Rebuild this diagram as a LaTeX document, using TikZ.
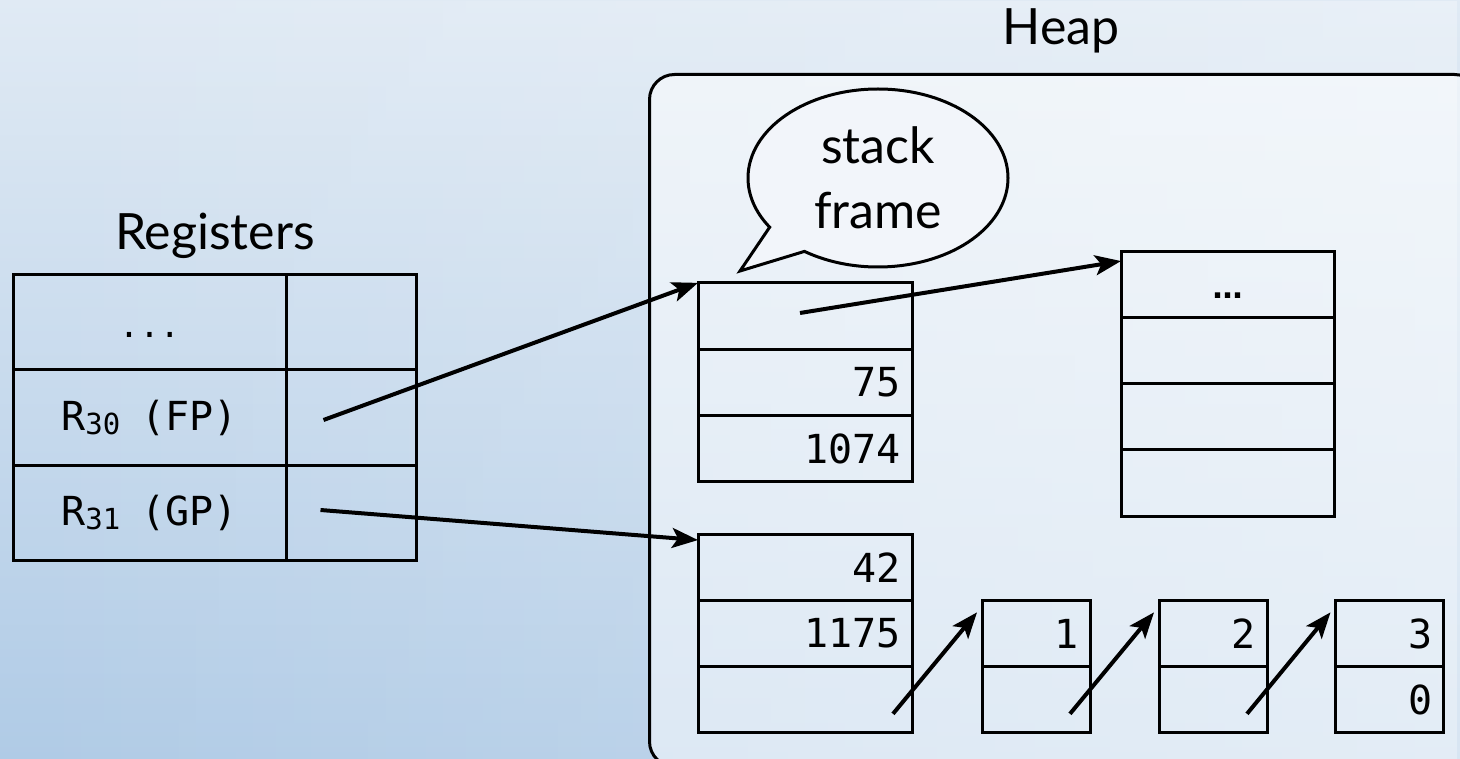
\documentclass[tikz,border=0pt]{standalone}
\usepackage{fontspec}
\setmainfont{Lato}
\newfontfamily\monofam{DejaVu Sans Mono}
\newfontfamily\dotfam{DejaVu Sans}
\usetikzlibrary{arrows.meta,shapes.callouts,fadings}

\definecolor{bgtop}{RGB}{224,234,244}
\definecolor{bgbot}{RGB}{176,203,230}
\definecolor{bubblefill}{RGB}{242,245,250}

\newcommand\valfont{\monofam\fontsize{40}{40}\selectfont}
\newcommand\headfont{\fontsize{50}{65}\selectfont}
% register name: R with a lowered index, then the alias in parentheses
\newcommand\regname[2]{\vphantom{R}R\raisebox{-4pt}[0pt][0pt]{\fontsize{29}{29}\selectfont #1}\hspace{-3pt} (#2)}

\tikzfading[name=fade to right, left color=transparent!100, right color=transparent!0]

\tikzset{
  cell/.style={draw, line width=3pt, inner sep=0pt, outer sep=0pt, minimum height=66.3pt},
  wide/.style={cell, minimum width=214pt},
  narrow/.style={cell, minimum width=108pt},
  regcell/.style={draw, line width=3pt, inner sep=0pt, outer sep=0pt, minimum height=95pt, font=\valfont},
  val/.style={font=\valfont, anchor=east, inner sep=0pt},
  heading/.style={font=\headfont, inner sep=0pt, anchor=base},
  heapbox/.style={draw, line width=3pt, rounded corners=25pt, fill=white, fill opacity=0.5, inner sep=0pt, anchor=north west},
  bubble/.style={ellipse callout, draw, line width=3pt, fill=bubblefill, inner sep=0pt,
    minimum width=260pt, minimum height=178pt, callout pointer arc=22, align=center, font=\headfont},
  ptr/.style={line width=4pt, -{Stealth[length=26pt,width=20pt,inset=6pt]}},
}

\begin{document}
\begin{tikzpicture}[x=1pt,y=-1pt]
\useasboundingbox (0,0) rectangle (1460,759);
\clip (0,0) rectangle (1460,759);

% background
\shade[top color=bgtop, bottom color=bgbot] (0,0) rectangle (1460,759);
\fill[white, opacity=0.3, path fading=fade to right] (0,0) rectangle (1460,759);

% heap area
\node[heapbox, minimum width=830pt, minimum height=692pt] (heap) at (648,73) {};
\node[heading] (heaplbl) at (1061,45) {Heap};

% register file
\node[heading] (reglbl) at (215,250) {Registers};
\node[regcell, minimum width=273pt] (r1) at (149.5,322.5) {\vphantom{R}\fontsize{34}{34}\selectfont ...};
\node[regcell, minimum width=273pt] (r2) at (149.5,417.5) {\regname{30}{FP}};
\node[regcell, minimum width=273pt] (r3) at (149.5,512.5) {\regname{31}{GP}};
\node[regcell, minimum width=130pt] (v1) at (351.5,322.5) {};
\node[regcell, minimum width=130pt] (v2) at (351.5,417.5) {};
\node[regcell, minimum width=130pt] (v3) at (351.5,512.5) {};

% stack frame
\node[wide] (sf1) at (805,316) {};
\node[wide] (sf2) at (805,382.3) {};
\node[wide] (sf3) at (805,448.6) {};
\node[val] (sf2v) at ([xshift=-11pt]sf2.east) {75};
\node[val] (sf3v) at ([xshift=-11pt]sf3.east) {1074};

% callout
\node[bubble, callout absolute pointer={(740,271)}] (note) at (878,178) {stack\\frame};

% object on the right
\node[wide, minimum width=213pt] (rb1) at (1227.5,284.2) {\valfont\vphantom{0}\dotfam\bfseries\fontsize{30}{30}\selectfont …};
\node[wide, minimum width=213pt] (rb2) at (1227.5,350.5) {};
\node[wide, minimum width=213pt] (rb3) at (1227.5,416.8) {};
\node[wide, minimum width=213pt] (rb4) at (1227.5,483.1) {};

% global object
\node[wide] (g1) at (805,567.2) {};
\node[wide] (g2) at (805,633.5) {};
\node[wide] (g3) at (805,699.8) {};
\node[val] (g1v) at ([xshift=-11pt]g1.east) {42};
\node[val] (g2v) at ([xshift=-11pt]g2.east) {1175};

% linked list cells
\node[narrow] (a1) at (1036,633.5) {};
\node[narrow] (a2) at (1036,699.8) {};
\node[narrow] (b1) at (1213,633.5) {};
\node[narrow] (b2) at (1213,699.8) {};
\node[narrow] (c1) at (1389.5,633.5) {};
\node[narrow] (c2) at (1389.5,699.8) {};
\node[val] (a1v) at ([xshift=-11pt]a1.east) {1};
\node[val] (b1v) at ([xshift=-11pt]b1.east) {2};
\node[val] (c1v) at ([xshift=-11pt]c1.east) {3};
\node[val] (c2v) at ([xshift=-11pt]c2.east) {0};

% pointers
\coordinate (fpsrc) at ([xshift=-28pt,yshift=-2.5pt]v2.center);
\coordinate (gpsrc) at ([xshift=-31pt,yshift=2.5pt]v3.center);
\coordinate (sfsrc) at ([xshift=-5pt,yshift=3pt]sf1.center);
\coordinate (gsrc)  at ([xshift=88pt,yshift=-14pt]g3.center);
\coordinate (asrc)  at ([xshift=34pt,yshift=-14pt]a2.center);
\coordinate (bsrc)  at ([xshift=34pt,yshift=-14pt]b2.center);

\draw[ptr] (fpsrc) -- (sf1.north west);
\draw[ptr] (gpsrc) -- ([yshift=-6pt]g1.north west);
\draw[ptr] (sfsrc) -- ([yshift=-10pt]rb1.north west);
\draw[ptr] (gsrc) -- ([xshift=-5pt,yshift=-12pt]a1.north west);
\draw[ptr] (asrc) -- ([xshift=-5pt,yshift=-12pt]b1.north west);
\draw[ptr] (bsrc) -- ([xshift=-5pt,yshift=-12pt]c1.north west);
\end{tikzpicture}
\end{document}
